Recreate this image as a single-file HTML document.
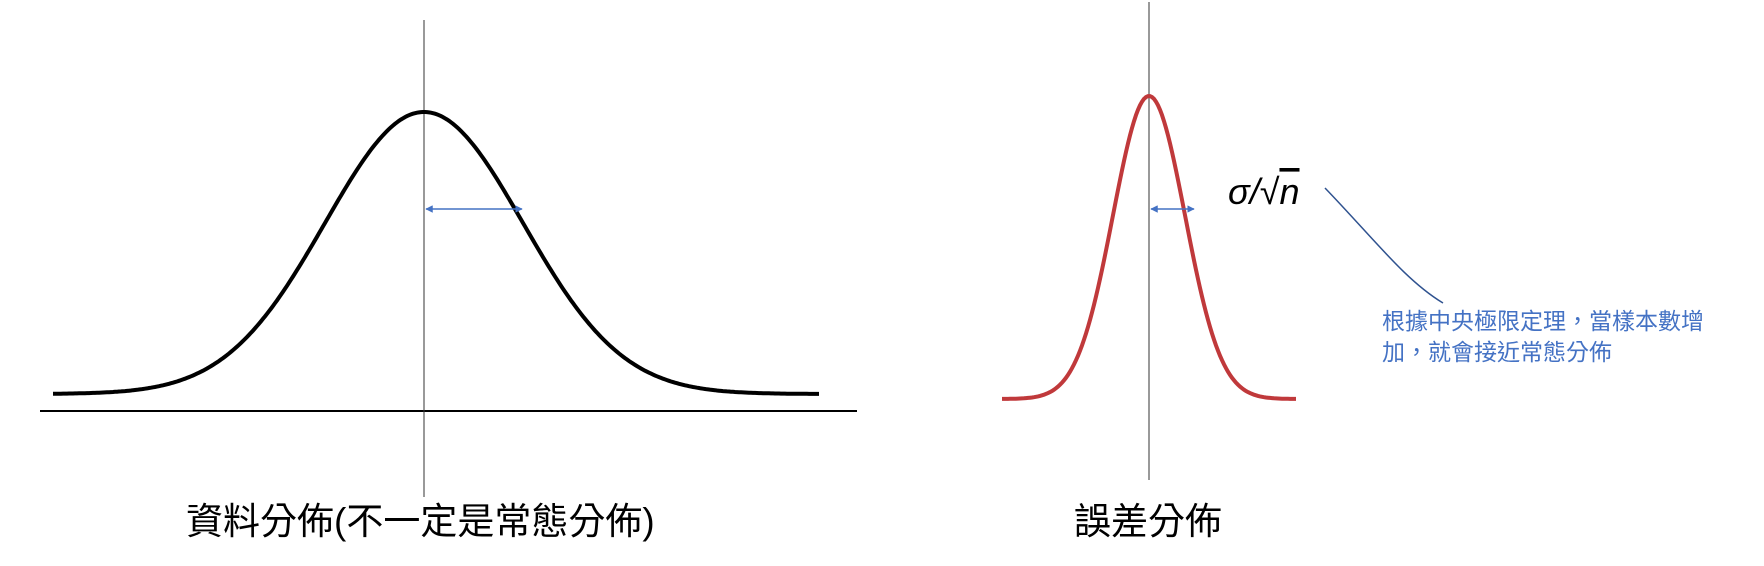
<!DOCTYPE html>
<html><head><meta charset="utf-8"><style>
body{margin:0;background:#fff;width:1764px;height:566px;overflow:hidden}
svg{display:block}
text{font-family:"Liberation Sans","Noto Sans CJK TC",sans-serif}
</style></head><body>
<svg id="c" width="1764" height="566" xmlns="http://www.w3.org/2000/svg">
<defs>
<marker id="ah" viewBox="0 0 10 10" refX="9" refY="5" markerWidth="5" markerHeight="5" orient="auto-start-reverse"><path d="M0,0L10,5L0,10z" fill="#4472c4"/></marker>
</defs>
<line x1="40" y1="411" x2="857" y2="411" stroke="#000" stroke-width="2"/>
<line x1="424" y1="20" x2="424" y2="497" stroke="#333" stroke-width="1"/>
<line x1="1149" y1="2" x2="1149" y2="480" stroke="#333" stroke-width="1"/>
<path id="blackCurve" fill="none" stroke="#000" stroke-width="4"/>
<path id="redCurve" fill="none" stroke="#c0393b" stroke-width="4"/>
<line x1="426" y1="209" x2="522" y2="209" stroke="#4472c4" stroke-width="1.5" marker-start="url(#ah)" marker-end="url(#ah)"/>
<line x1="1151" y1="209" x2="1194" y2="209" stroke="#4472c4" stroke-width="1.5" marker-start="url(#ah)" marker-end="url(#ah)"/>
<text x="1228" y="204" font-size="36" font-style="italic" font-family="Liberation Serif,serif">σ/√<tspan text-decoration="overline">n</tspan></text>
<path d="M1325,188 C1375,240 1405,280 1443,303" fill="none" stroke="#2f528f" stroke-width="1.5"/>
<text x="1382" y="329" font-size="23" fill="#4472c4">根據中央極限定理，當樣本數增</text>
<text x="1382" y="360" font-size="23" fill="#4472c4">加，就會接近常態分佈</text>
<text x="186" y="534" font-size="37">資料分佈(不一定是常態分佈)</text>
<text x="1074" y="534" font-size="37">誤差分佈</text>
</svg>
<script>
// curve parameters (data)
const blackMean=[424], blackSigma=[99], blackPeak=[112], blackBase=[394], blackRange=[53,819];
const redMean=[1149], redSigma=[36], redPeak=[96], redBase=[399], redRange=[1002,1296];
function gauss(mu,s,peak,base,r){let d='';for(let x=r[0];x<=r[1];x+=2){const y=base-(base-peak)*Math.exp(-((x-mu)**2)/(2*s*s));d+=(d?'L':'M')+x+','+y.toFixed(1);}return d;}
document.getElementById('blackCurve').setAttribute('d',gauss(blackMean[0],blackSigma[0],blackPeak[0],blackBase[0],blackRange));
document.getElementById('redCurve').setAttribute('d',gauss(redMean[0],redSigma[0],redPeak[0],redBase[0],redRange));
</script>
</body></html>
